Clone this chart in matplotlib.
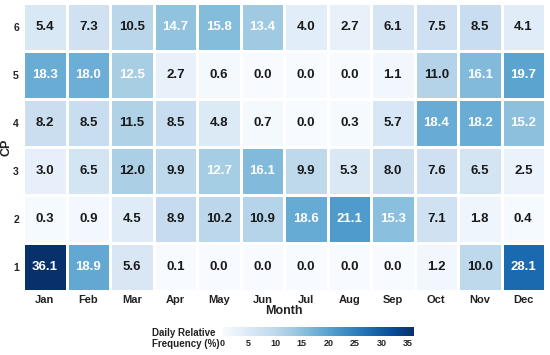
import numpy as np
import matplotlib
matplotlib.use("Agg")
import matplotlib.pyplot as plt

plt.rcParams['font.family'] = ['Liberation Sans', 'DejaVu Sans']

months = ["Jan", "Feb", "Mar", "Apr", "May", "Jun", "Jul", "Aug", "Sep", "Oct", "Nov", "Dec"]
cps = ["1", "2", "3", "4", "5", "6"]
cp1 = [36.1, 18.9, 5.6, 0.1, 0.0, 0.0, 0.0, 0.0, 0.0, 1.2, 10.0, 28.1]
cp2 = [0.3, 0.9, 4.5, 8.9, 10.2, 10.9, 18.6, 21.1, 15.3, 7.1, 1.8, 0.4]
cp3 = [3.0, 6.5, 12.0, 9.9, 12.7, 16.1, 9.9, 5.3, 8.0, 7.6, 6.5, 2.5]
cp4 = [8.2, 8.5, 11.5, 8.5, 4.8, 0.7, 0.0, 0.3, 5.7, 18.4, 18.2, 15.2]
cp5 = [18.3, 18.0, 12.5, 2.7, 0.6, 0.0, 0.0, 0.0, 1.1, 11.0, 16.1, 19.7]
cp6 = [5.4, 7.3, 10.5, 14.7, 15.8, 13.4, 4.0, 2.7, 6.1, 7.5, 8.5, 4.1]
cbar_ticks = [0, 5, 10, 15, 20, 25, 30, 35]

data = np.array([cp1, cp2, cp3, cp4, cp5, cp6])
vmax = data.max()

fig = plt.figure(figsize=(5.5, 3.55), dpi=100)
ax = fig.add_axes([0.042, 0.180, 0.949, 0.8115])
mesh = ax.pcolormesh(np.arange(len(months) + 1), np.arange(len(cps) + 1), data,
                     cmap="Blues", vmin=0, vmax=vmax, edgecolor="white", linewidth=1.0)
for i in range(data.shape[0]):
    for j in range(data.shape[1]):
        v = data[i, j]
        ax.text(j + 0.5, i + 0.5, f"{v:.1f}", ha="center", va="center",
                fontsize=9.5, fontweight="bold", color="white" if v > 12.2 else "#1a1a1a")
ax.set_xlim(0, len(months))
ax.set_ylim(0, len(cps))
ax.set_xticks(np.arange(len(months)) + 0.5)
ax.set_xticklabels(months, fontsize=8, fontweight="bold", color="#222222")
ax.set_yticks(np.arange(len(cps)) + 0.5)
ax.set_yticklabels(cps, fontsize=7.5, fontweight="bold", color="#222222")
ax.tick_params(length=0, pad=3)
for s in ax.spines.values():
    s.set_visible(False)
ax.set_xlabel("Month", fontsize=9, fontweight="bold", labelpad=0, color="#222222")
ax.set_ylabel("CP", fontsize=9, fontweight="bold", color="#222222")
ax.yaxis.set_label_coords(-0.020, 0.5)

cax = fig.add_axes([0.4036, 0.0535, 0.349, 0.025])
cb = fig.colorbar(mesh, cax=cax, orientation="horizontal", ticks=cbar_ticks)
cb.outline.set_visible(False)
cax.tick_params(length=0, labelsize=6.5, pad=2)
for t in cax.get_xticklabels():
    t.set_fontweight("bold")
    t.set_color("#222222")
fig.text(0.276, 0.047, "Daily Relative\nFrequency (%)", fontsize=7, fontweight="bold",
         ha="left", va="center", color="#222222", linespacing=1.15)

fig.savefig("out.png", dpi=100)
